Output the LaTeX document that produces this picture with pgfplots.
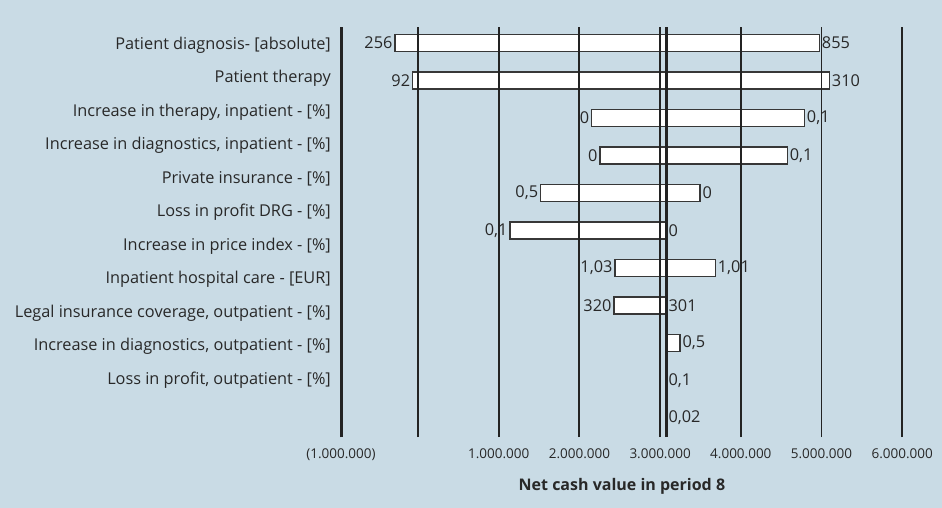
\documentclass[border=0pt]{standalone}
\usepackage{pgfplots}
\pgfplotsset{compat=1.18}
\usepackage{pgfplotstable}
\usepackage{fontspec}
\setmainfont{Open Sans}
\definecolor{bg}{RGB}{201,219,229}
\definecolor{txt}{RGB}{40,40,40}
\definecolor{grd}{RGB}{35,35,35}
\definecolor{barc}{RGB}{55,55,55}

% values in millions (net cash value), base case = 3.073
\pgfplotstableread{
y lo hi lolab hilab
10 -0.285 4.973 256 855
9 -0.066 5.097 92 310
8 2.152 4.787 0 0,1
7 2.255 4.576 0 0,1
6 1.520 3.494 0,5 0
5 1.140 3.073 0,1 0
4 2.441 3.684 1,03 1,01
3 2.429 3.073 320 301
2 3.073 3.247 {} 0,5
1 3.073 3.073 {} 0,1
0 3.073 3.073 {} 0,02
}\tornado

\begin{document}
\begin{tikzpicture}
\fill[bg] (0,0) rectangle (942bp,-508bp);
\useasboundingbox (0,0) rectangle (942bp,-508bp);
\begin{axis}[
  at={(341bp,-27bp)}, anchor=north west,
  scale only axis, width=599bp, height=410bp,
  xmin=-4.027, xmax=3.395, ymin=-0.507, ymax=10.427,
  clip=false,
  axis on top,
  axis line style={draw=none},
  xbar, bar width=17bp, bar shift=0pt,
  xtick={-4.027,-3.073,-2.073,-1.073,-0.073,0.927,1.927,2.927},
  xticklabels={(1.000.000),{},1.000.000,2.000.000,3.000.000,4.000.000,5.000.000,6.000.000},
  xmajorgrids,
  major grid style={grd, line width=1.9bp},
  extra x ticks={-4.027,0},
  extra x tick labels={},
  extra x tick style={grid=major, major grid style={grd, line width=3bp}},
  major tick length=0pt,
  tick style={draw=none},
  xticklabel style={font=\fontsize{13.5bp}{16bp}\selectfont, text=txt, anchor=base, inner sep=0pt, yshift=-21bp},
  ytick={9.947,9.053,8.16,7.267,6.373,5.48,4.587,3.693,2.8,1.907,1.013},
  yticklabels={
    {Patient diagnosis- [absolute]},
    {Patient therapy},
    {Increase in therapy, inpatient - [\%]},
    {Increase in diagnostics, inpatient - [\%]},
    {Private insurance - [\%]},
    {Loss in profit DRG - [\%]},
    {Increase in price index - [\%]},
    {Inpatient hospital care - [EUR]},
    {Legal insurance coverage, outpatient - [\%]},
    {Increase in diagnostics, outpatient - [\%]},
    {Loss in profit, outpatient - [\%]}},
  yticklabel style={font=\fontsize{16.3bp}{19bp}\selectfont, text=txt, anchor=east, inner sep=0pt, xshift=-10bp},
  xlabel={\textbf{Net cash value in period 8}},
  xlabel style={font=\fontsize{16bp}{19bp}\selectfont, text=txt, at={(axis description cs:0.469,0)}, anchor=base, yshift=-53bp},
  nodes near coords,
  point meta=explicit symbolic,
]
\addplot[fill=white, draw=barc, line width=1.2bp,
  every node near coord/.append style={font=\fontsize{16.3bp}{19bp}\selectfont, text=txt, anchor=east, inner sep=2bp}]
  table[x expr=\thisrow{lo}-3.073, y=y, meta=lolab] {\tornado};
\addplot[fill=white, draw=barc, line width=1.2bp,
  every node near coord/.append style={font=\fontsize{16.3bp}{19bp}\selectfont, text=txt, anchor=west, inner sep=2bp}]
  table[x expr=\thisrow{hi}-3.073, y=y, meta=hilab] {\tornado};
\end{axis}
\end{tikzpicture}
\end{document}
